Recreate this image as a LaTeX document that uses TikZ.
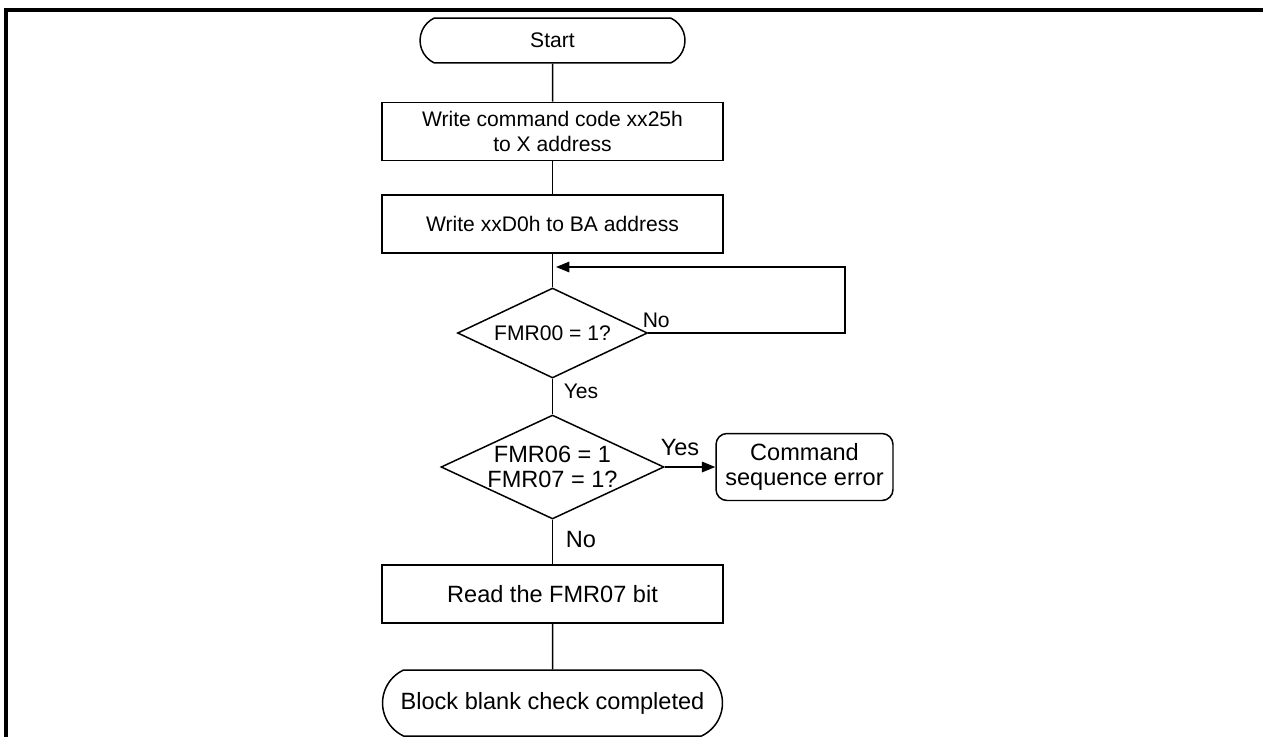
\documentclass[tikz,border=0pt]{standalone}
\usepackage{fontspec}
\setmainfont{Liberation Sans}
\usetikzlibrary{arrows.meta,shapes.geometric,shapes.misc}

\begin{document}
\begin{tikzpicture}[x=0.02cm,y=-0.02cm,>={Triangle[length=7.6pt,width=6pt]},
  line width=0.85pt,font=\fontsize{12}{14}\selectfont,
  big/.style={font=\fontsize{13.4}{14.6}\selectfont},
  proc/.style={draw,rectangle,minimum width=6.82cm,minimum height=1.16cm,
    align=center,inner sep=0pt},
  term/.style={draw,rounded rectangle,rounded rectangle arc length=130,
    align=center,inner sep=0pt},
  dec/.style={draw,diamond,aspect=2.1,inner sep=-3pt,align=center},
  lab/.style={anchor=base west,inner sep=0pt}]
  \useasboundingbox (0,0) rectangle (1263,737);
  % frame
  \draw[line width=1.8pt] (1263,10) -- (6,10) -- (6,737);
  % steps
  \node[term,minimum width=5.3cm,minimum height=0.9cm] (start) at (552.5,40.5) {Start};
  \node[proc,minimum height=1.17cm] (wcmd) at (552.5,131.5)
     {Write command code xx25h\\to X address};
  \node[proc] (wba) at (552.5,224) {Write xxD0h to BA address};
  \node[dec,minimum width=3.8cm,minimum height=1.8cm] (fmr00) at (552.5,333) {FMR00 = 1?};
  \node[dec,big,minimum width=4.46cm,minimum height=2.08cm] (fmr67) at (552.5,467)
     {FMR06 = 1\\FMR07 = 1?};
  \node[draw,big,rounded corners=0.22cm,minimum width=3.54cm,minimum height=1.34cm,
     align=center,inner sep=0pt] (cmd) at (804.5,467) {Command\\sequence error};
  \node[proc,big] (rd) at (552.5,594) {Read the FMR07 bit};
  \node[term,big,minimum width=6.8cm,minimum height=1.32cm] (fin) at (552.5,703)
     {Block blank check completed};
  % connectors
  \draw (start) -- (wcmd);
  \draw (wcmd) -- (wba);
  \draw (wba) -- (fmr00);
  \draw (fmr00) -- (fmr67);
  \draw (fmr67) -- (rd);
  \draw (rd) -- (fin);
  \coordinate (ret) at (845,267);
  \coordinate (join) at (556,267);
  \draw[->] (fmr00.east) -| (ret) -- (join);
  \draw[->] (fmr67) -- (cmd);
  % branch labels
  \node[lab] (no1) at (642,327) {No};
  \node[lab] (yes1) at (563,398) {Yes};
  \node[lab,big] (yes2) at (660,455) {Yes};
  \node[lab,big] (no2) at (565,547) {No};
\end{tikzpicture}
\end{document}
